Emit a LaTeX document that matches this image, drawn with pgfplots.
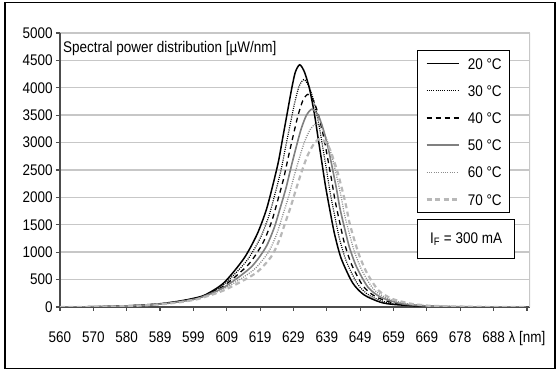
\documentclass[border=0pt]{standalone}
\usepackage{fontspec}
\setmainfont[FakeStretch=0.876]{Liberation Sans}
\usepackage{pgfplots}
\pgfplotsset{compat=1.18}
\begin{document}
\fontsize{15.4}{18}\selectfont
\begin{tikzpicture}[x=1pt,y=1pt]
\useasboundingbox (0,0) rectangle (560,371);
\draw[line width=1.3pt] (5,2.5) rectangle (555,368.5);
\begin{axis}[
  at={(60pt,64pt)}, anchor=south west,
  scale only axis, width=470pt, height=274pt,
  xmin=560, xmax=698.8, ymin=0, ymax=5000,
  axis lines=left, axis line style={-, draw=black!70, line width=1.3pt},
  xtick={560,569.85,579.7,589.55,599.4,609.25,619.1,628.95,638.8,648.65,658.5,668.35,678.2,688.05,697.9},
  xticklabels={560,570,580,589,599,609,619,629,639,649,659,669,678,688,λ [nm]},
  ytick={0,500,...,5000},
  /pgf/number format/assume math mode=true,
  /pgf/number format/1000 sep={},
  tick align=outside, major tick length=4pt,
  tick style={draw=black!70, line width=1.2pt},
  ymajorgrids, grid style={draw=black!22, line width=1.4pt},
  xticklabel style={yshift=-15pt},
  yticklabel style={xshift=2pt},
  legend style={at={(0.7596,0.938)}, anchor=north west, draw=black, line width=1.2pt, fill=white,
    inner xsep=8pt, inner ysep=7.5pt, row sep=16.2pt, column sep=8pt,
    nodes={inner sep=0pt, text height=11pt, text depth=0pt}},
  legend cell align=left,
  legend image code/.code={\draw[#1] (0pt,0pt) -- (32pt,0pt);},
  every axis plot/.append style={smooth, tension=0.45, no markers},
]
\addplot[black, line width=1.5pt] coordinates {(560,0)(565,2)(570,6)(575,12)(580,22)(585,38)(590,62)(595,105)(599,152)
(602.9,221)(608.4,442)(614.3,884)(618.2,1326)(620.9,1768)(622.8,2210)(624.5,2652)(625.8,3094)(627.1,3536)(628.4,3978)(629.5,4287)(630.8,4420)
(632.2,4287)(633.7,3978)(635.1,3536)(636.2,3094)(637.3,2652)(638.4,2210)(639.7,1768)(641.1,1326)(643.05,884)(646.4,442)(649.8,221)(654.6,88)(659.0,44)
(670,6)(680,2)(690,0)(697.6,0)};
\addlegendentry{20 °C}
\addplot[black, line width=1.2pt, dash pattern=on 1pt off 1.2pt] coordinates {(560,0)(565,1.8)(570,5.6)(575,11.4)(580,21)(585,36.4)(590,59.8)(595,100.8)(599,146.2)
(602.56,207.5)(608.42,415)(614.98,830)(619.04,1245)(621.68,1660)(623.54,2075)(625.24,2490)(626.58,2905)(627.94,3320)(629.34,3735)(630.6,4026)(632.0,4150)
(633.54,4026)(635.04,3735)(636.48,3320)(637.62,2905)(638.74,2490)(639.82,2075)(641.14,1660)(642.55,1245)(644.58,830)(647.92,415)(651.42,207.5)(656.38,83)(660.76,41.5)
(670,8.8)(680,2.8)(690,0.2)(697.6,0)};
\addlegendentry{30 °C}
\addplot[black, line width=1.3pt, dash pattern=on 5pt off 4pt] coordinates {(560,0)(565,1.6)(570,5.2)(575,10.8)(580,20)(585,34.8)(590,57.6)(595,96.6)(599,140.4)
(602.22,194)(608.44,388)(615.66,776)(619.88,1164)(622.46,1552)(624.28,1940)(625.98,2328)(627.36,2716)(628.78,3104)(630.28,3492)(631.7,3764)(633.2,3880)
(634.88,3764)(636.38,3492)(637.86,3104)(639.04,2716)(640.18,2328)(641.24,1940)(642.58,1552)(644.0,1164)(646.11,776)(649.44,388)(653.04,194)(658.16,78)(662.52,39)
(670,11.6)(680,3.6)(690,0.4)(697.6,0)};
\addlegendentry{40 °C}
\addplot[black!50, line width=1.6pt] coordinates {(560,0)(565,1.4)(570,4.8)(575,10.2)(580,19)(585,33.2)(590,55.4)(595,92.4)(599,134.6)
(601.88,180.5)(608.46,361)(616.34,722)(620.72,1083)(623.24,1444)(625.02,1805)(626.72,2166)(628.14,2527)(629.62,2888)(631.22,3249)(632.8,3502)(634.4,3610)
(636.22,3502)(637.72,3249)(639.24,2888)(640.46,2527)(641.62,2166)(642.66,1805)(644.02,1444)(645.5,1083)(647.64,722)(650.96,361)(654.66,180.5)(659.94,72)(664.28,36)
(670,14.4)(680,4.4)(690,0.6)(697.6,0)};
\addlegendentry{50 °C}
\addplot[black!45, line width=1.3pt, dash pattern=on 1pt off 1.3pt] coordinates {(560,0)(565,1.2)(570,4.4)(575,9.6)(580,18)(585,31.6)(590,53.2)(595,88.2)(599,128.8)
(601.54,167)(608.48,334)(617.02,668)(621.56,1002)(624.02,1336)(625.76,1670)(627.46,2004)(628.92,2338)(630.46,2672)(632.16,3006)(633.9,3240)(635.6,3340)
(637.56,3240)(639.06,3006)(640.62,2672)(641.88,2338)(643.06,2004)(644.08,1670)(645.46,1336)(647.0,1002)(649.17,668)(652.48,334)(656.28,167)(661.72,67)(666.04,33.5)
(670,17.2)(680,5.2)(690,0.8)(697.6,0)};
\addlegendentry{60 °C}
\addplot[black!28, line width=2.2pt, dash pattern=on 5pt off 3.5pt] coordinates {(560,0)(565,1)(570,4)(575,9)(580,17)(585,30)(590,51)(595,84)(599,123)
(601.2,153.5)(608.5,307)(617.7,614)(622.4,921)(624.8,1228)(626.5,1535)(628.2,1842)(629.7,2149)(631.3,2456)(633.1,2763)(635.0,2978)(636.8,3070)
(638.9,2978)(640.4,2763)(642.0,2456)(643.3,2149)(644.5,1842)(645.5,1535)(646.9,1228)(648.5,921)(650.7,614)(654.0,307)(657.9,153.5)(663.5,61)(667.8,31)
(670,20)(680,6)(690,1)(697.6,0)};
\addlegendentry{70 °C}
\draw[black!22, line width=1.4pt] (rel axis cs:1,0) -- (rel axis cs:1,1);
\node[anchor=west, inner sep=0pt] at (axis description cs:0.0064,0.945) {Spectral power distribution [µW/nm]};
\node[anchor=north west, draw=black, line width=1.2pt, fill=white, minimum width=97pt, minimum height=39pt, inner sep=0pt]
  at (axis description cs:0.7596,0.3212) {I\textsubscript{F} = 300 mA};
\end{axis}
\end{tikzpicture}
\end{document}
